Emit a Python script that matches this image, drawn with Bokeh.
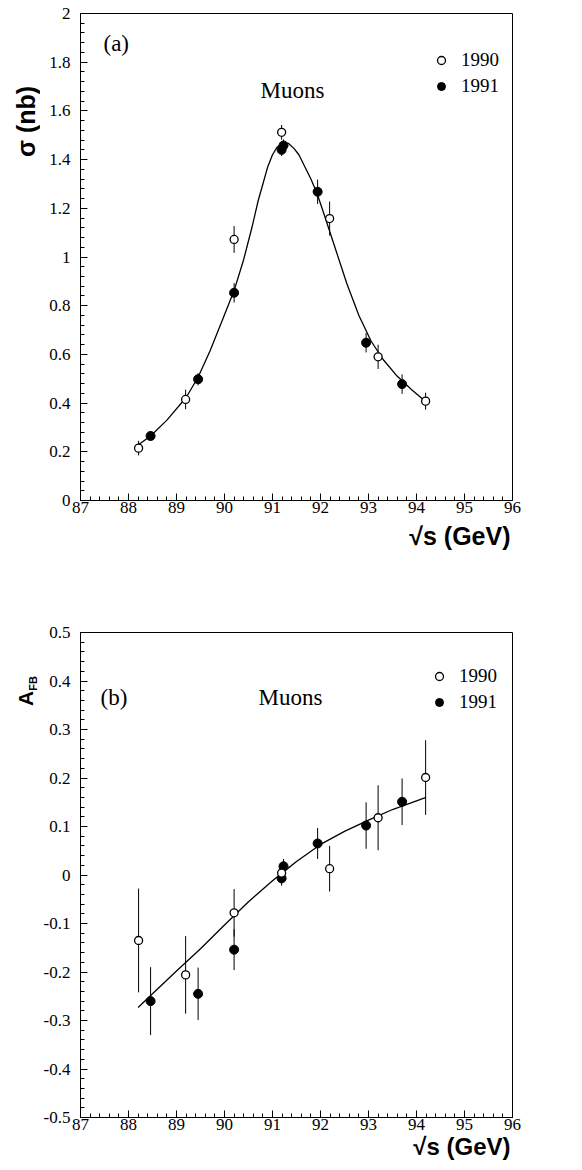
import math
from bokeh.plotting import figure
from bokeh.models import Range1d, FixedTicker, Label, Legend, LegendItem, Title
from bokeh.core.properties import value
from bokeh.layouts import column, row
from bokeh.embed import file_html
from bokeh.resources import INLINE

# ---------------- data ----------------
E90 = [88.21, 89.19, 90.20, 91.19, 92.19, 93.20, 94.19]
E91 = [88.46, 89.45, 90.20, 91.19, 91.23, 91.94, 92.95, 93.70]

sig90 = [0.215, 0.415, 1.072, 1.512, 1.158, 0.590, 0.408]
sig90_err = [0.030, 0.040, 0.055, 0.030, 0.070, 0.050, 0.035]
sig91 = [0.265, 0.498, 0.853, 1.440, 1.458, 1.268, 0.648, 0.478]
sig91_err = [0.015, 0.025, 0.040, 0.025, 0.025, 0.050, 0.040, 0.040]

fit_sig_E = [88.2, 88.46, 88.8, 89.2, 89.45, 89.7, 89.95, 90.2, 90.4, 90.57,
             90.7, 90.8, 90.9, 91.0, 91.1, 91.2, 91.33, 91.45, 91.55, 91.8,
             91.93, 92.05, 92.3, 92.55, 92.8, 93.05, 93.3, 93.6, 93.9, 94.2]
fit_sig = [0.228, 0.265, 0.330, 0.423, 0.506, 0.615, 0.738, 0.862, 0.990, 1.120,
           1.230, 1.300, 1.370, 1.420, 1.452, 1.467, 1.467, 1.445, 1.420, 1.320,
           1.260, 1.190, 1.040, 0.890, 0.760, 0.656, 0.580, 0.510, 0.455, 0.405]

afb90 = [-0.135, -0.206, -0.078, 0.004, 0.013, 0.118, 0.201]
afb90_err = [0.107, 0.080, 0.049, 0.020, 0.047, 0.067, 0.077]
afb91 = [-0.260, -0.245, -0.154, -0.007, 0.018, 0.065, 0.102, 0.151]
afb91_err = [0.070, 0.054, 0.042, 0.015, 0.015, 0.032, 0.048, 0.048]

fit_afb_E = [88.2, 88.5, 89.0, 89.5, 90.0, 90.5, 91.0, 91.25, 91.5, 92.0,
             92.5, 93.0, 93.5, 94.0, 94.2]
fit_afb = [-0.273, -0.245, -0.198, -0.152, -0.103, -0.055, -0.012, 0.008, 0.028, 0.063,
           0.090, 0.113, 0.135, 0.153, 0.160]

x_ticks = [87, 88, 89, 90, 91, 92, 93, 94, 95, 96]
x_minor = [87 + 0.2 * i for i in range(46)]
sig_ticks = [0, 0.2, 0.4, 0.6, 0.8, 1, 1.2, 1.4, 1.6, 1.8, 2]
sig_labels = ["0", "0.2", "0.4", "0.6", "0.8", "1", "1.2", "1.4", "1.6", "1.8", "2"]
sig_minor = [0.04 * i for i in range(51)]
afb_ticks = [-0.5, -0.4, -0.3, -0.2, -0.1, 0, 0.1, 0.2, 0.3, 0.4, 0.5]
afb_labels = ["-0.5", "-0.4", "-0.3", "-0.2", "-0.1", "0", "0.1", "0.2", "0.3", "0.4", "0.5"]
afb_minor = [-0.5 + 0.02 * i for i in range(51)]

SERIF = "Liberation Serif"
SANS = "Liberation Sans"
LABEL_W = 40   # width of the strip carrying the vertical axis titles
H = 1170
XLABEL = "\u221as (GeV)"


def make_panel(height, left, right, top, bottom, yr, yticks, ylabels, yminor):
    p = figure(width=582 - LABEL_W, height=height, output_backend="svg", toolbar_location=None,
               x_range=Range1d(87, 96), y_range=Range1d(*yr),
               min_border_left=left, min_border_right=right,
               min_border_top=top, min_border_bottom=bottom)
    p.xgrid.visible = False
    p.ygrid.visible = False
    p.outline_line_color = "black"
    p.outline_line_width = 1
    p.background_fill_color = "white"
    p.border_fill_color = "white"
    p.xaxis.ticker = FixedTicker(ticks=x_ticks, minor_ticks=x_minor)
    p.yaxis.ticker = FixedTicker(ticks=yticks, minor_ticks=yminor)
    p.yaxis.major_label_overrides = {t: l for t, l in zip(yticks, ylabels)}
    for ax in (p.xaxis[0], p.yaxis[0]):
        ax.axis_line_color = "black"
        ax.major_tick_in = 7
        ax.major_tick_out = 0
        ax.minor_tick_in = 4
        ax.minor_tick_out = 0
        ax.major_tick_line_color = "black"
        ax.minor_tick_line_color = "black"
        ax.major_label_text_font = SERIF
        ax.major_label_text_font_size = "17px"
        ax.major_label_text_color = "black"
    p.xaxis.major_label_standoff = 1
    p.yaxis.major_label_standoff = 10
    return p


def add_data(p, y90, e90, y91, e91, fx, fy):
    p.line(fx, fy, line_color="black", line_width=1.3)
    p.segment(E90, [a - b for a, b in zip(y90, e90)], E90, [a + b for a, b in zip(y90, e90)],
              line_color="black", line_width=1)
    p.segment(E91, [a - b for a, b in zip(y91, e91)], E91, [a + b for a, b in zip(y91, e91)],
              line_color="black", line_width=1)
    r91 = p.scatter(E91, y91, marker="circle", size=9, fill_color="black", line_color="black")
    r90 = p.scatter(E90, y90, marker="circle", size=8, fill_color="white",
                    line_color="black", line_width=1.3)
    return r90, r91


def add_legend(p, r90, r91, x, y):
    leg = Legend(items=[LegendItem(label="1990", renderers=[r90]),
                        LegendItem(label="1991", renderers=[r91])],
                 location=(x, y), orientation="vertical",
                 padding=0, margin=0, spacing=4,
                 glyph_width=20, glyph_height=20, label_height=20, label_standoff=10,
                 label_text_font=SERIF, label_text_font_size="19px",
                 label_text_color="black",
                 border_line_color=None, background_fill_alpha=0)
    p.add_layout(leg, "center")


def label(p, text, x, y, size, align="left"):
    p.add_layout(Label(x=x, y=y, x_units="screen", y_units="screen", text=text,
                       text_font=SERIF, text_font_size=size,
                       text_align=align, text_baseline="middle", text_color="black"))


def xtitle(p, size, standoff):
    p.add_layout(Title(text=XLABEL, align="right", vertical_align="top",
                       offset=2, standoff=standoff, text_font=SANS,
                       text_font_size=size, text_font_style="bold",
                       text_color="black"), "below")


# ---------------- panel (a) ----------------
p1 = make_panel(585, 77 - LABEL_W, 70, 13, 85, (0, 2), sig_ticks, sig_labels, sig_minor)
r90, r91 = add_data(p1, sig90, sig90_err, sig91, sig91_err, fit_sig_E, fit_sig)
add_legend(p1, r90, r91, 351, 403)
label(p1, "(a)", 23, 457, "23px")
label(p1, "Muons", 212, 410, "23px", align="center")
xtitle(p1, "25px", 12)

# ---------------- panel (b) ----------------
p2 = make_panel(585, 80 - LABEL_W, 69, 47, 53, (-0.5, 0.5),
                afb_ticks, afb_labels, afb_minor)
r90b, r91b = add_data(p2, afb90, afb90_err, afb91, afb91_err, fit_afb_E, fit_afb)
add_legend(p2, r90b, r91b, 349, 404)
label(p2, "(b)", 20, 420, "23px")
label(p2, "Muons", 210, 420, "23px", align="center")
xtitle(p2, "24px", 0)

# ---------------- strip with the vertical axis titles ----------------
ytitle_text = ["\u03c3 (nb)", "A", "FB"]
ytitle_x = [25, 25, 32]          # pixel centre, from the left edge of the page
ytitle_y = [121, 698, 683]       # pixel centre, from the top of the page
ytitle_size = ["25px", "21px", "11px"]

strip = figure(width=LABEL_W, height=H, output_backend="svg", toolbar_location=None,
               x_range=Range1d(0, LABEL_W), y_range=Range1d(0, H),
               x_axis_type=None, y_axis_type=None, min_border=0)
strip.grid.visible = False
strip.outline_line_color = None
strip.background_fill_color = "white"
strip.border_fill_color = "white"
for t, x, y, s in zip(ytitle_text, ytitle_x, ytitle_y, ytitle_size):
    strip.text(x=[x], y=[H - y], text=[t], angle=math.pi / 2,
               text_font=value(SANS), text_font_style="bold",
               text_font_size=s, text_align="center", text_baseline="middle",
               text_color="black")

layout = row(strip, column(p1, p2, spacing=0), spacing=0)
open("out.html", "w").write(file_html(layout, INLINE))
